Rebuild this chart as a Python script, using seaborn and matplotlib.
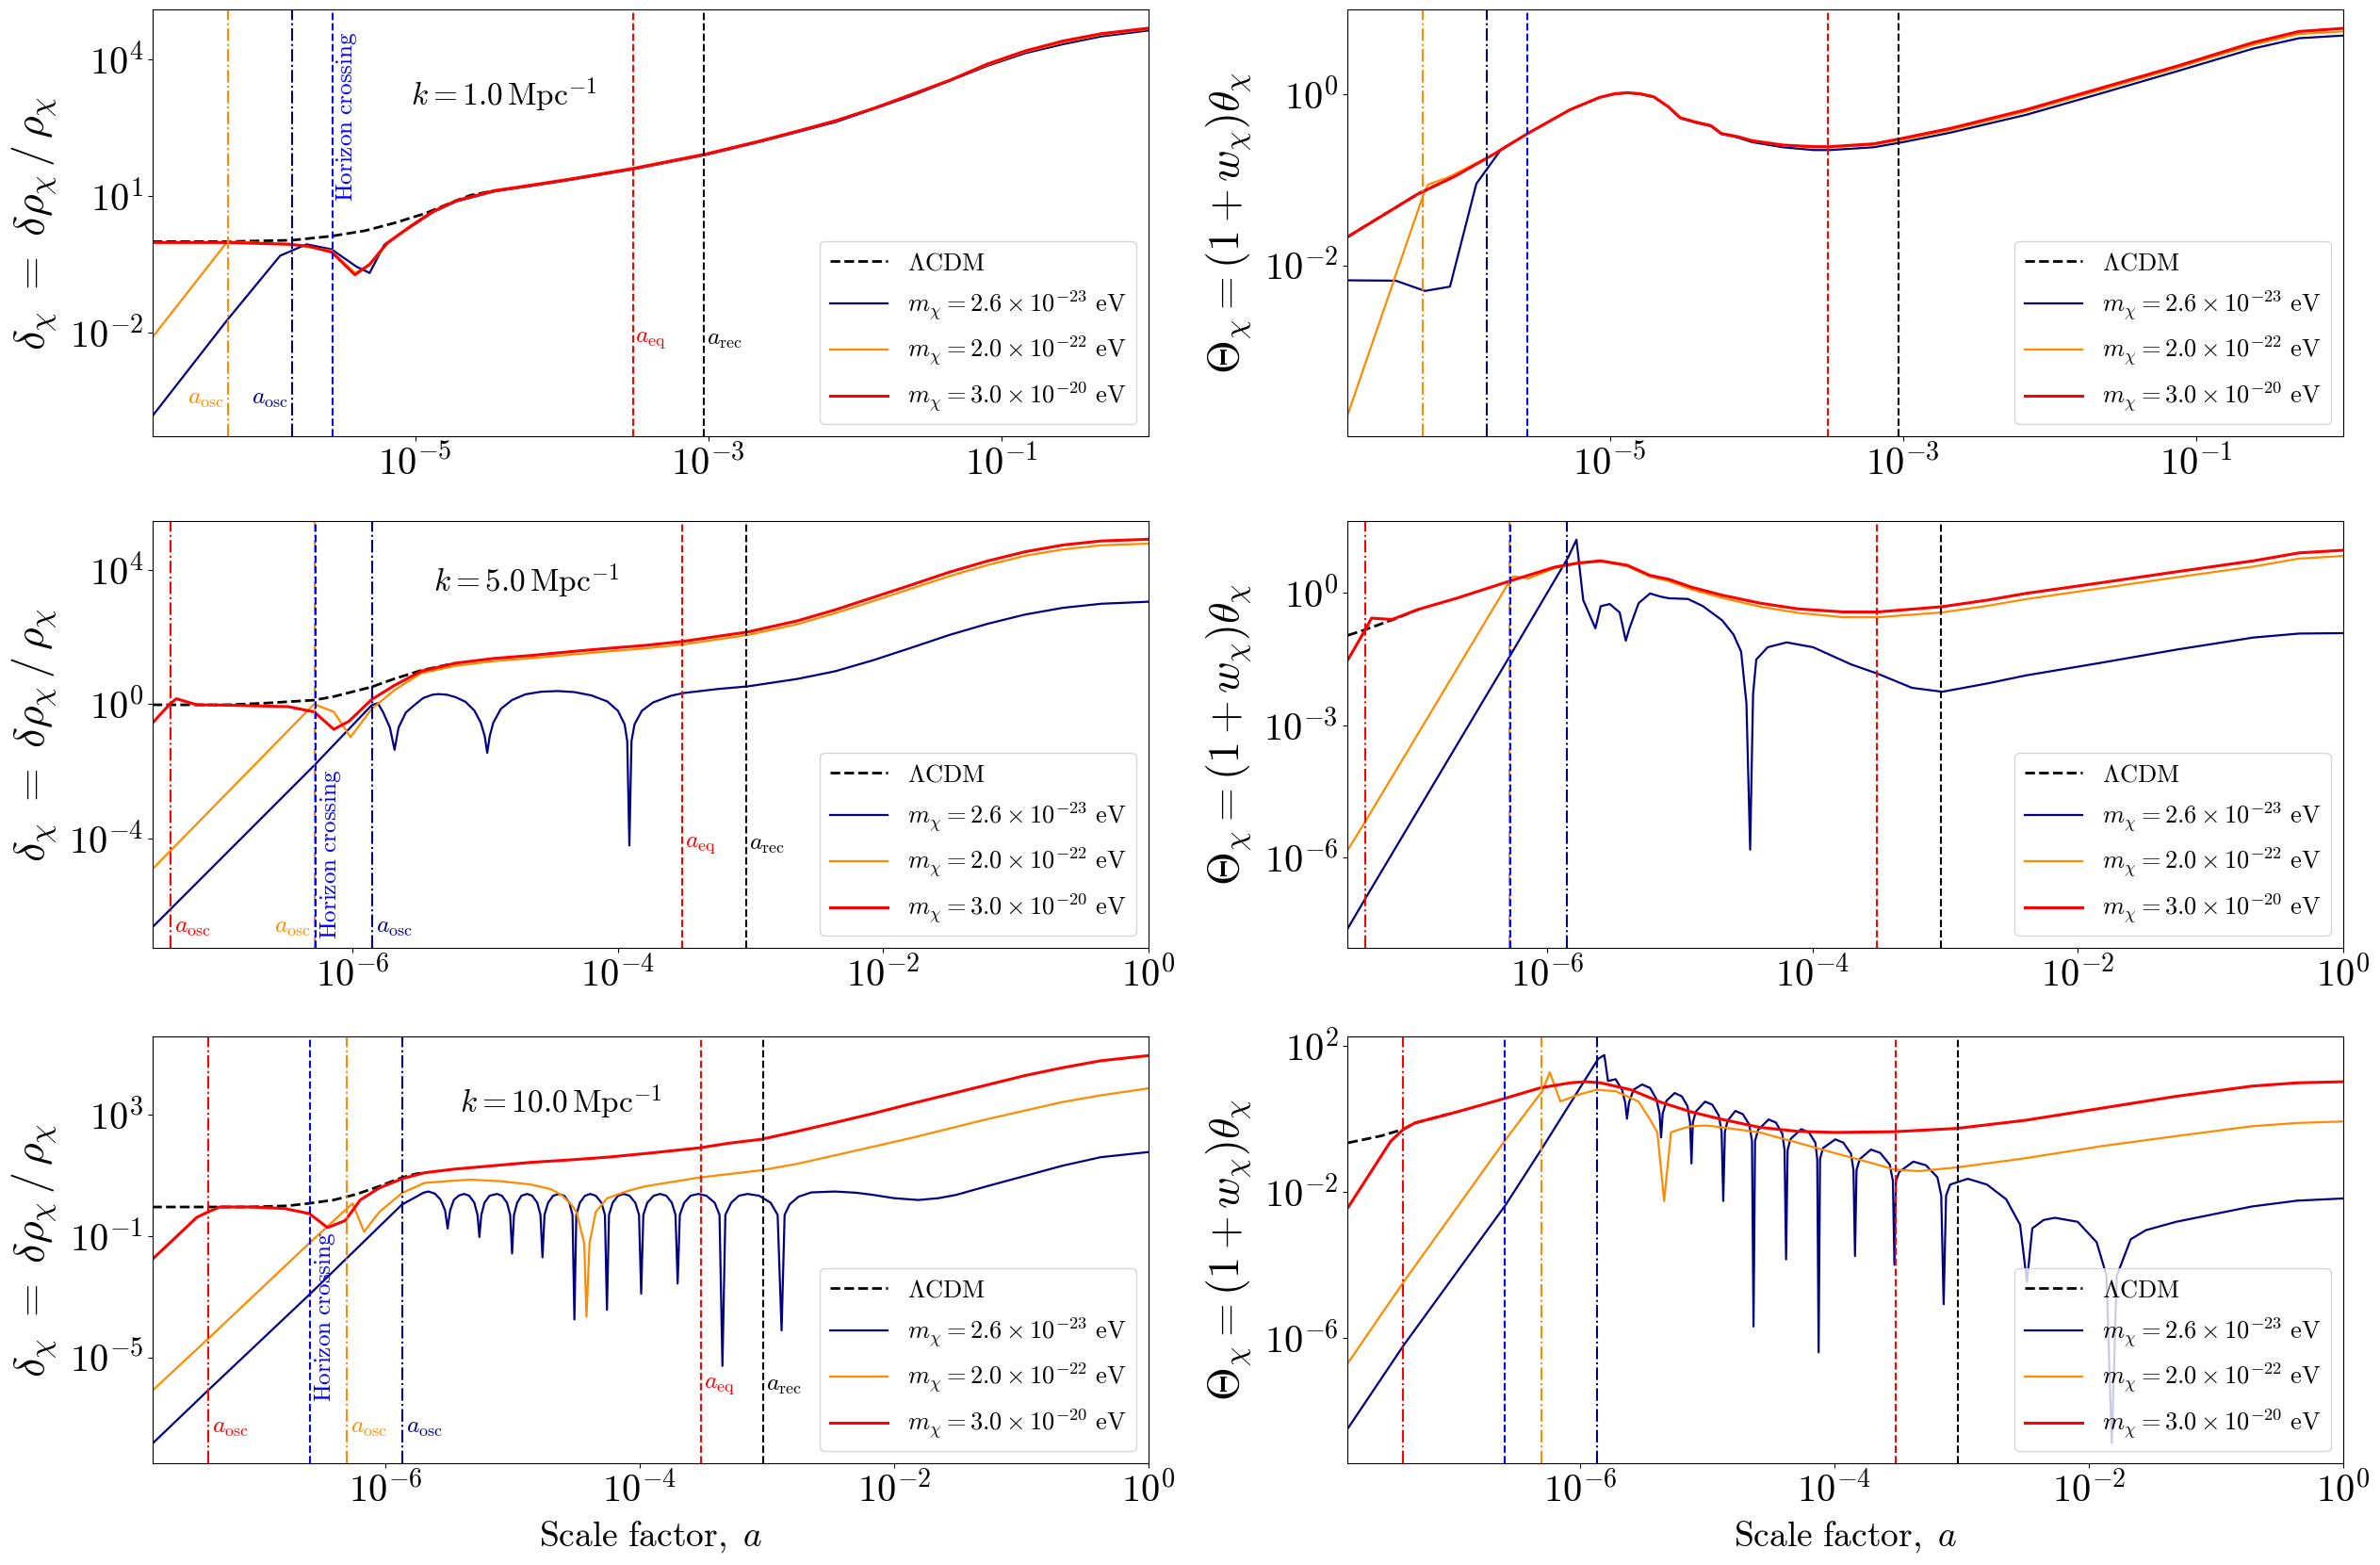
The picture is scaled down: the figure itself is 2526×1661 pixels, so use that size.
import numpy as np
import pandas as pd
import matplotlib
matplotlib.use("Agg")
import matplotlib.pyplot as plt
import matplotlib.transforms as mtransforms
from matplotlib.ticker import FixedLocator, NullLocator, FuncFormatter
import seaborn as sns

# all values are (log10 a, log10 y)

# ---- k = 1.0 Mpc^-1 ----
D1_LCDM = [(-6.79, 0.0), (-6.28, 0.0), (-5.84, 0.03), (-5.57, 0.12), (-5.34, 0.24),
           (-5.14, 0.41), (-4.93, 0.62), (-4.72, 0.90), (-4.62, 1.02), (-4.46, 1.12)]
D1_NAVY = [(-6.79, -3.83), (-6.28, -1.72), (-5.92, -0.31), (-5.74, -0.06), (-5.57, -0.17),
           (-5.40, -0.55), (-5.31, -0.69), (-5.21, -0.07), (-5.03, 0.32), (-4.88, 0.64),
           (-4.72, 0.88), (-4.46, 1.10), (-4.21, 1.22), (-3.95, 1.35), (-3.51, 1.59),
           (-3.01, 1.91), (-2.65, 2.19), (-2.13, 2.63), (-1.61, 3.21), (-1.10, 3.86),
           (-0.84, 4.14), (-0.58, 4.34), (-0.32, 4.51), (0.0, 4.64)]
D1_ORANGE = [(-6.79, -2.10), (-6.28, 0.0), (-5.86, -0.05), (-5.57, -0.20), (-5.41, -0.69),
             (-5.31, -0.52), (-5.19, -0.05), (-5.03, 0.33), (-4.88, 0.65), (-4.72, 0.89),
             (-4.46, 1.11), (-4.21, 1.23), (-3.95, 1.36), (-3.51, 1.60), (-3.01, 1.92),
             (-2.65, 2.20), (-2.13, 2.65), (-1.61, 3.23), (-1.10, 3.88), (-0.84, 4.17),
             (-0.58, 4.38), (-0.32, 4.55), (0.0, 4.67)]
D1_RED = [(-6.79, -0.02), (-6.28, -0.02), (-5.86, -0.06), (-5.73, -0.10), (-5.57, -0.23),
          (-5.41, -0.73), (-5.31, -0.50), (-5.19, -0.03), (-5.03, 0.34), (-4.88, 0.66),
          (-4.72, 0.90), (-4.46, 1.12), (-4.21, 1.24), (-3.95, 1.37), (-3.51, 1.61),
          (-3.01, 1.93), (-2.65, 2.21), (-2.39, 2.43), (-2.13, 2.66), (-1.87, 2.93),
          (-1.61, 3.24), (-1.35, 3.55), (-1.10, 3.90), (-0.84, 4.19), (-0.58, 4.41),
          (-0.32, 4.57), (0.0, 4.69)]

T1_LCDM = [(-6.79, -1.67), (-6.31, -1.167), (-6.05, -0.954)]
T1_NAVY = [(-6.79, -2.176), (-6.46, -2.18), (-6.26, -2.30), (-6.09, -2.25), (-5.91, -1.046),
           (-5.74, -0.642), (-5.56, -0.459), (-5.27, -0.18), (-5.07, -0.04), (-4.97, 0.0),
           (-4.88, 0.015), (-4.79, 0.0), (-4.70, -0.035), (-4.60, -0.15), (-4.52, -0.28),
           (-4.42, -0.33), (-4.31, -0.375), (-4.24, -0.465), (-4.13, -0.505), (-4.03, -0.56),
           (-3.82, -0.62), (-3.61, -0.653), (-3.50, -0.653), (-3.20, -0.62), (-3.00, -0.56),
           (-2.68, -0.45), (-2.16, -0.24), (-1.65, 0.01), (-1.13, 0.27), (-0.61, 0.535),
           (-0.30, 0.655), (0.0, 0.686)]
T1_ORANGE = [(-6.79, -3.76), (-6.27, -1.167), (-6.24, -1.057), (-6.10, -0.97), (-5.79, -0.70),
             (-5.56, -0.459), (-5.27, -0.18), (-5.07, -0.037), (-4.97, 0.003), (-4.88, 0.018),
             (-4.79, 0.003), (-4.70, -0.03), (-4.60, -0.147), (-4.52, -0.275), (-4.42, -0.323),
             (-4.31, -0.367), (-4.24, -0.459), (-4.13, -0.495), (-4.03, -0.545), (-3.82, -0.60),
             (-3.61, -0.62), (-3.50, -0.62), (-3.20, -0.59), (-3.00, -0.53), (-2.68, -0.42),
             (-2.16, -0.20), (-1.65, 0.05), (-1.13, 0.31), (-0.61, 0.58), (-0.30, 0.705),
             (0.0, 0.734)]
T1_RED = [(-6.79, -1.67), (-6.31, -1.167), (-6.05, -0.954), (-5.79, -0.70), (-5.56, -0.459),
          (-5.27, -0.18), (-5.07, -0.037), (-4.97, 0.005), (-4.88, 0.018), (-4.79, 0.005),
          (-4.70, -0.03), (-4.60, -0.147), (-4.52, -0.275), (-4.42, -0.323), (-4.31, -0.367),
          (-4.24, -0.459), (-4.13, -0.495), (-4.03, -0.543), (-3.82, -0.594), (-3.61, -0.613),
          (-3.50, -0.613), (-3.20, -0.58), (-3.00, -0.514), (-2.68, -0.40), (-2.16, -0.18),
          (-1.65, 0.073), (-1.13, 0.33), (-0.61, 0.606), (-0.30, 0.734), (0.0, 0.77)]

# ---- k = 5.0 Mpc^-1 ----
D5_LCDM = [(-7.51, -0.02), (-6.95, -0.02), (-6.66, 0.03), (-6.29, 0.12), (-6.14, 0.23),
           (-5.86, 0.51), (-5.69, 0.75), (-5.48, 1.01), (-5.23, 1.22)]
D5_NAVY = [(-7.51, -6.64), (-6.29, -1.82), (-5.857, -0.03), (-5.811, 0.03), (-5.77, -0.25),
           (-5.72, -0.7), (-5.685, -1.36), (-5.655, -0.7), (-5.60, -0.25), (-5.542, -0.05),
           (-5.47, 0.18), (-5.40, 0.28), (-5.352, 0.30), (-5.29, 0.28), (-5.226, 0.21),
           (-5.15, 0.07), (-5.083, -0.19), (-5.035, -0.55), (-5.005, -0.95), (-4.986, -1.45),
           (-4.967, -0.95), (-4.94, -0.55), (-4.883, -0.14), (-4.80, 0.12), (-4.70, 0.29),
           (-4.58, 0.37), (-4.453, 0.39), (-4.33, 0.36), (-4.20, 0.26), (-4.08, 0.08),
           (-4.00, -0.2), (-3.95, -0.6), (-3.93, -1.1), (-3.914, -4.21), (-3.898, -1.1),
           (-3.875, -0.6), (-3.82, -0.2), (-3.736, 0.05), (-3.60, 0.25), (-3.507, 0.33),
           (-3.25, 0.45), (-3.02, 0.53), (-2.648, 0.75), (-2.361, 0.98), (-2.074, 1.31),
           (-1.788, 1.68), (-1.501, 2.06), (-1.215, 2.39), (-0.928, 2.67), (-0.642, 2.87),
           (-0.355, 2.99), (0.0, 3.05)]
D5_ORANGE = [(-7.51, -4.91), (-6.292, 0.0), (-6.143, -0.23), (-6.017, -0.98), (-5.857, -0.14),
             (-5.685, 0.42), (-5.484, 0.92), (-5.226, 1.14), (-4.94, 1.28), (-4.653, 1.37),
             (-4.367, 1.47), (-4.08, 1.57), (-3.794, 1.66), (-3.507, 1.78), (-3.02, 2.06),
             (-2.648, 2.38), (-2.361, 2.71), (-2.074, 3.07), (-1.788, 3.44), (-1.501, 3.81),
             (-1.215, 4.14), (-0.928, 4.42), (-0.642, 4.61), (-0.355, 4.73), (0.0, 4.78)]
D5_RED = [(-7.51, -0.56), (-7.381, 0.0), (-7.33, 0.16), (-7.175, -0.02), (-6.946, -0.03),
          (-6.487, -0.075), (-6.292, -0.23), (-6.143, -0.75), (-6.029, -0.51), (-5.857, 0.14),
          (-5.685, 0.56), (-5.484, 0.98), (-5.226, 1.22), (-4.94, 1.36), (-4.653, 1.45),
          (-4.367, 1.56), (-4.08, 1.66), (-3.794, 1.75), (-3.507, 1.87), (-3.02, 2.15),
          (-2.648, 2.48), (-2.361, 2.81), (-2.074, 3.18), (-1.788, 3.55), (-1.501, 3.93),
          (-1.215, 4.26), (-0.928, 4.54), (-0.642, 4.74), (-0.355, 4.86), (0.0, 4.91)]

T5_LCDM = [(-7.505, -0.96), (-7.374, -0.83), (-7.145, -0.58), (-6.973, -0.37)]
T5_NAVY = [(-7.505, -7.60), (-7.374, -6.93), (-6.286, -1.44), (-5.845, 0.805), (-5.782, 1.21),
           (-5.731, -0.16), (-5.639, -0.80), (-5.599, -0.30), (-5.531, -0.25), (-5.456, -0.44),
           (-5.41, -1.08), (-5.382, -0.80), (-5.313, -0.23), (-5.227, -0.01), (-5.15, -0.08),
           (-5.084, -0.12), (-4.941, -0.135), (-4.827, -0.30), (-4.683, -0.62), (-4.598, -0.94),
           (-4.54, -1.33), (-4.50, -2.5), (-4.472, -5.82), (-4.45, -2.3), (-4.426, -1.51),
           (-4.34, -1.23), (-4.197, -1.12), (-3.997, -1.23), (-3.71, -1.62), (-3.51, -1.83),
           (-3.252, -2.15), (-3.023, -2.24), (-2.68, -2.05), (-2.394, -1.87), (-1.821, -1.58),
           (-1.249, -1.28), (-0.677, -1.01), (-0.333, -0.92), (0.0, -0.91)]
T5_ORANGE = [(-7.505, -5.82), (-7.374, -5.18), (-6.286, 0.27), (-6.258, 0.38), (-6.143, 0.33),
             (-5.943, 0.57), (-5.771, 0.67), (-5.599, 0.72), (-5.399, 0.61), (-5.227, 0.37),
             (-5.084, 0.27), (-4.912, 0.08), (-4.683, -0.11), (-4.397, -0.31), (-4.111, -0.45),
             (-3.768, -0.55), (-3.51, -0.55), (-3.023, -0.44), (-2.68, -0.29), (-2.394, -0.14),
             (-1.821, 0.11), (-1.249, 0.36), (-0.677, 0.60), (-0.333, 0.78), (0.0, 0.84)]
T5_RED = [(-7.505, -1.51), (-7.374, -0.83), (-7.328, -0.57), (-7.173, -0.60), (-6.973, -0.37),
          (-6.687, -0.12), (-6.286, 0.27), (-5.943, 0.59), (-5.771, 0.68), (-5.599, 0.73),
          (-5.399, 0.63), (-5.227, 0.40), (-5.084, 0.31), (-4.912, 0.13), (-4.683, -0.05),
          (-4.397, -0.23), (-4.111, -0.36), (-3.768, -0.43), (-3.51, -0.43), (-3.023, -0.31),
          (-2.68, -0.16), (-2.394, -0.01), (-1.821, 0.235), (-1.249, 0.485), (-0.677, 0.73),
          (-0.333, 0.91), (0.0, 0.97)]

# ---- k = 10.0 Mpc^-1 ----
D10_LCDM = [(-7.833, -0.04), (-7.063, -0.04), (-6.764, 0.0), (-6.597, 0.08), (-6.406, 0.19),
            (-6.227, 0.38), (-6.048, 0.64), (-5.869, 0.93), (-5.749, 1.06), (-5.69, 1.09)]
D10_NAVY = [(-7.833, -7.85), (-7.397, -6.10), (-6.597, -2.93), (-5.869, 0.04), (-5.779, 0.245),
            (-5.70, 0.43), (-5.66, 0.47), (-5.61, 0.40), (-5.565, 0.2), (-5.53, -0.15),
            (-5.51, -0.75), (-5.49, -0.15), (-5.46, 0.2), (-5.42, 0.34), (-5.379, 0.39),
            (-5.34, 0.33), (-5.30, 0.1), (-5.275, -0.3), (-5.26, -1.03), (-5.245, -0.3),
            (-5.22, 0.1), (-5.18, 0.33), (-5.122, 0.39),
            (-5.083, 0.33), (-5.043, 0.1), (-5.018, -0.3), (-5.003, -1.57), (-4.988, -0.3),
            (-4.963, 0.1), (-4.93, 0.33), (-4.884, 0.39),
            (-4.845, 0.33), (-4.805, 0.1), (-4.78, -0.3), (-4.764, -1.70), (-4.748, -0.3),
            (-4.72, 0.1), (-4.68, 0.33), (-4.633, 0.39),
            (-4.593, 0.33), (-4.553, 0.1), (-4.528, -0.3), (-4.513, -3.75), (-4.498, -0.3),
            (-4.47, 0.1), (-4.43, 0.33), (-4.388, 0.39),
            (-4.345, 0.33), (-4.30, 0.1), (-4.273, -0.3), (-4.257, -3.43), (-4.241, -0.3),
            (-4.212, 0.1), (-4.17, 0.33), (-4.125, 0.39),
            (-4.08, 0.33), (-4.034, 0.1), (-4.005, -0.3), (-3.988, -2.90), (-3.971, -0.3),
            (-3.94, 0.1), (-3.89, 0.33), (-3.839, 0.39),
            (-3.79, 0.33), (-3.747, 0.1), (-3.718, -0.3), (-3.701, -2.56), (-3.684, -0.3),
            (-3.65, 0.1), (-3.60, 0.33), (-3.54, 0.39),
            (-3.475, 0.33), (-3.41, 0.1), (-3.372, -0.3), (-3.349, -5.28), (-3.326, -0.3),
            (-3.28, 0.1), (-3.22, 0.33), (-3.152, 0.39),
            (-3.06, 0.33), (-2.97, 0.1), (-2.915, -0.3), (-2.884, -4.11), (-2.86, -0.3),
            (-2.82, 0.05), (-2.75, 0.3), (-2.65, 0.44), (-2.466, 0.47), (-2.30, 0.43),
            (-2.167, 0.36), (-2.0, 0.25), (-1.809, 0.19), (-1.65, 0.25), (-1.51, 0.36),
            (-1.272, 0.64), (-0.973, 0.98), (-0.675, 1.32), (-0.376, 1.60), (0.0, 1.77)]
D10_ORANGE = [(-7.833, -6.10), (-7.397, -4.40), (-6.597, -1.23), (-6.257, 0.08), (-6.167, -0.86),
              (-6.048, -0.21), (-5.869, 0.42), (-5.69, 0.755), (-5.451, 0.83), (-5.331, 0.86),
              (-5.093, 0.81), (-4.854, 0.70), (-4.70, 0.55), (-4.615, 0.36), (-4.54, 0.05),
              (-4.496, -0.21), (-4.436, -1.23), (-4.418, -3.66), (-4.394, -1.23), (-4.346, -0.21),
              (-4.257, 0.245), (-4.10, 0.48), (-3.958, 0.64), (-3.54, 0.925), (-3.045, 1.17),
              (-2.764, 1.38), (-2.466, 1.66), (-1.869, 2.23), (-1.272, 2.85), (-0.675, 3.42),
              (-0.376, 3.64), (0.0, 3.87)]
D10_RED = [(-7.833, -1.77), (-7.481, -0.38), (-7.397, -0.21), (-7.301, -0.04), (-7.063, -0.04),
           (-6.794, -0.09), (-6.597, -0.26), (-6.454, -0.72), (-6.316, -0.49), (-6.197, 0.19),
           (-6.048, 0.585), (-5.869, 0.89), (-5.69, 1.09), (-5.451, 1.21), (-5.152, 1.32),
           (-4.854, 1.43), (-4.555, 1.51), (-4.257, 1.60), (-3.958, 1.72), (-3.66, 1.85),
           (-3.528, 1.91), (-3.301, 2.06), (-3.045, 2.19), (-2.764, 2.45), (-2.466, 2.74),
           (-2.167, 3.04), (-1.869, 3.36), (-1.57, 3.67), (-1.272, 3.98), (-0.973, 4.29),
           (-0.675, 4.55), (-0.376, 4.78), (0.0, 4.95)]

T10_LCDM = [(-7.823, -0.654), (-7.566, -0.466), (-7.388, -0.28), (-7.298, -0.11), (-6.971, 0.19)]
T10_NAVY = [(-7.823, -8.47), (-7.388, -6.21), (-6.584, -2.35), (-6.298, -0.80), (-5.857, 1.65),
            (-5.809, 1.75), (-5.78, 1.04), (-5.72, 1.09), (-5.67, 0.8), (-5.645, 0.45),
            (-5.631, 0.005), (-5.615, 0.45), (-5.58, 0.8), (-5.512, 0.945),
            (-5.45, 0.85), (-5.40, 0.55), (-5.375, 0.15), (-5.363, -0.51), (-5.35, 0.15),
            (-5.32, 0.5), (-5.256, 0.71),
            (-5.20, 0.62), (-5.155, 0.35), (-5.135, -0.1), (-5.124, -1.22), (-5.113, -0.1),
            (-5.09, 0.2), (-5.017, 0.475),
            (-4.96, 0.39), (-4.91, 0.1), (-4.887, -0.35), (-4.874, -2.25), (-4.861, -0.35),
            (-4.84, -0.05), (-4.779, 0.22),
            (-4.72, 0.13), (-4.67, -0.15), (-4.648, -0.6), (-4.636, -5.69), (-4.624, -0.6),
            (-4.60, -0.3), (-4.517, -0.014),
            (-4.46, -0.1), (-4.41, -0.4), (-4.392, -0.85), (-4.38, -3.85), (-4.368, -0.85),
            (-4.345, -0.55), (-4.261, -0.28),
            (-4.20, -0.37), (-4.15, -0.65), (-4.135, -1.1), (-4.124, -6.40), (-4.113, -1.1),
            (-4.09, -0.8), (-3.993, -0.56),
            (-3.93, -0.65), (-3.87, -0.95), (-3.85, -1.4), (-3.838, -3.76), (-3.826, -1.4),
            (-3.80, -1.1), (-3.713, -0.84),
            (-3.64, -0.93), (-3.565, -1.25), (-3.54, -1.7), (-3.528, -4.0), (-3.516, -1.7),
            (-3.49, -1.45), (-3.379, -1.17),
            (-3.28, -1.27), (-3.19, -1.6), (-3.16, -2.1), (-3.141, -5.08), (-3.122, -2.1),
            (-3.09, -1.8), (-2.951, -1.64),
            (-2.80, -1.8), (-2.65, -2.2), (-2.54, -2.9), (-2.486, -4.47), (-2.444, -3.0),
            (-2.355, -2.77), (-2.266, -2.71), (-2.087, -2.82), (-1.938, -3.38), (-1.86, -4.3),
            (-1.819, -8.89), (-1.78, -4.3), (-1.67, -3.3), (-1.551, -3.05), (-1.313, -2.82),
            (-0.717, -2.40), (-0.36, -2.24), (0.0, -2.18)]
T10_ORANGE = [(-7.823, -6.68), (-7.388, -4.47), (-6.584, -0.56), (-6.298, 0.76), (-6.238, 1.28),
              (-6.155, 0.48), (-6.018, 0.66), (-5.869, 0.80), (-5.72, 0.76), (-5.541, 0.48),
              (-5.452, 0.0), (-5.392, -0.37), (-5.339, -2.25), (-5.285, -0.37), (-5.214, -0.28),
              (-5.124, -0.20), (-5.005, -0.18), (-4.886, -0.23), (-4.588, -0.37), (-4.291, -0.65),
              (-3.993, -0.94), (-3.695, -1.22), (-3.528, -1.39), (-3.338, -1.43), (-3.04, -1.33),
              (-2.504, -1.08), (-1.908, -0.75), (-1.313, -0.47), (-0.717, -0.20), (-0.36, -0.11),
              (0.0, -0.07)]
T10_RED = [(-7.823, -2.42), (-7.489, -0.61), (-7.388, -0.28), (-7.298, -0.11), (-6.971, 0.19),
           (-6.584, 0.57), (-6.316, 0.85), (-6.077, 0.99), (-5.958, 1.02), (-5.839, 0.99),
           (-5.601, 0.80), (-5.363, 0.456), (-5.124, 0.19), (-4.886, -0.01), (-4.588, -0.23),
           (-4.291, -0.34), (-3.993, -0.37), (-3.528, -0.35), (-3.04, -0.26), (-2.504, -0.04),
           (-1.908, 0.29), (-1.313, 0.62), (-0.717, 0.90), (-0.36, 0.99), (0.0, 1.02)]

# characteristic scale factors (log10 a) per k
K_VALUES = [1.0, 5.0, 10.0]
A_OSC_NAVY = [-5.837, -5.855, -5.866]
A_OSC_ORANGE = [-6.277, -6.288, -6.305]
A_OSC_RED = [None, -7.375, -7.393]
A_HORIZON = [-5.565, -6.278, -6.594]
A_EQ = -3.515
A_REC = -3.03

X_MIN = [-6.79, -7.51, -7.83]
Y_LIMS = [(-4.28, 5.10), (-4.0, 0.99), (-7.26, 5.45), (-8.05, 1.63), (-8.49, 5.58), (-9.44, 2.26)]
Y_TICKS = [[-2, 1, 4], [-2, 0], [-4, 0, 4], [-6, -3, 0], [-5, -1, 3], [-6, -2, 2]]
X_TICKS = [[-5, -3, -1], [-6, -4, -2, 0], [-6, -4, -2, 0]]

LABELS = [r"$\Lambda\mathrm{CDM}$",
          r"$m_\chi = 2.6\times10^{-23}\ \mathrm{eV}$",
          r"$m_\chi = 2.0\times10^{-22}\ \mathrm{eV}$",
          r"$m_\chi = 3.0\times10^{-20}\ \mathrm{eV}$"]

plt.rcParams["mathtext.fontset"] = "cm"
plt.rcParams["axes.unicode_minus"] = False

NAVY, ORANGE, RED = "navy", "darkorange", "red"

fig = plt.figure(figsize=(25.26, 16.61), dpi=100)
col_left = [0.0641, 0.5661]
row_bottom = [0.7212, 0.3943, 0.0650]
W, H = 0.4184, 0.2727

panels = [
    (D1_LCDM, D1_NAVY, D1_ORANGE, D1_RED), (T1_LCDM, T1_NAVY, T1_ORANGE, T1_RED),
    (D5_LCDM, D5_NAVY, D5_ORANGE, D5_RED), (T5_LCDM, T5_NAVY, T5_ORANGE, T5_RED),
    (D10_LCDM, D10_NAVY, D10_ORANGE, D10_RED), (T10_LCDM, T10_NAVY, T10_ORANGE, T10_RED),
]

# text placement per row (axes fraction)
k_pos = [(0.353, 0.80), (0.376, 0.86), (0.41, 0.847)]
osc_y = [0.09, 0.05, 0.086]
eq_y = [0.23, 0.245, 0.185]
hor_y = [(0.95, "top"), (0.02, "bottom"), (0.143, "bottom")]
# which side of the line each a_osc label sits on (navy, orange, red)
osc_side = [("right", "right", None), ("left", "right", "left"), ("left", "left", "left")]

fmt = FuncFormatter(lambda v, p: r"$10^{%d}$" % int(round(np.log10(v))))

for i, series in enumerate(panels):
    row, col = divmod(i, 2)
    ax = fig.add_axes([col_left[col], row_bottom[row], W, H])
    ax.set_xscale("log")
    ax.set_yscale("log")

    styles = [("black", 2.0, "--"), (NAVY, 1.6, "-"), (ORANGE, 1.6, "-"), (RED, 2.2, "-")]
    for pts, (c, lw, ls) in zip(series, styles):
        la, ly = zip(*pts)
        df = pd.DataFrame({"a": 10.0 ** np.array(la), "v": 10.0 ** np.array(ly)})
        sns.lineplot(data=df, x="a", y="v", ax=ax, color=c, lw=lw, linestyle=ls,
                     estimator=None, sort=False, legend=False)
    handles = list(ax.get_lines()[:4])

    # reference lines
    lines = [(A_OSC_ORANGE[row], ORANGE, "-."), (A_OSC_NAVY[row], NAVY, "-."),
             (A_HORIZON[row], "blue", "--"), (A_EQ, RED, "--"), (A_REC, "black", "--")]
    if A_OSC_RED[row] is not None:
        lines.insert(0, (A_OSC_RED[row], RED, "-."))
    for x, c, ls in lines:
        ax.axvline(10 ** x, color=c, ls=ls, lw=1.5)

    ax.set_xlim(10 ** X_MIN[row], 1.0)
    lo, hi = Y_LIMS[i]
    ax.set_ylim(10 ** lo, 10 ** hi)
    ax.xaxis.set_major_locator(FixedLocator([10.0 ** t for t in X_TICKS[row]]))
    ax.yaxis.set_major_locator(FixedLocator([10.0 ** t for t in Y_TICKS[i]]))
    ax.xaxis.set_minor_locator(NullLocator())
    ax.yaxis.set_minor_locator(NullLocator())
    ax.xaxis.set_major_formatter(fmt)
    ax.yaxis.set_major_formatter(fmt)
    ax.tick_params(labelsize=29)

    if col == 0:
        ax.set_ylabel(r"$\delta_\chi\ =\ \delta\rho_\chi\,/\,\rho_\chi$", fontsize=33)
    else:
        ax.set_ylabel(r"$\Theta_\chi = (1 + w_\chi)\theta_\chi$", fontsize=33)
    ax.yaxis.set_label_coords(-0.095, 0.5)
    if row == 2:
        ax.set_xlabel(r"$\mathrm{Scale\ factor,}\ a$", fontsize=27, labelpad=6)
    else:
        ax.set_xlabel("")

    ax.legend(handles, LABELS, loc="lower right", fontsize=19, handlelength=2.3)

    if col == 0:
        tr = mtransforms.blended_transform_factory(ax.transData, ax.transAxes)
        kx, ky = k_pos[row]
        ax.text(kx, ky, r"$k = %.1f\,\mathrm{Mpc}^{-1}$" % K_VALUES[row], transform=ax.transAxes,
                fontsize=24, ha="center", va="center")
        osc = [(A_OSC_NAVY[row], NAVY), (A_OSC_ORANGE[row], ORANGE), (A_OSC_RED[row], RED)]
        for (x, c), side in zip(osc, osc_side[row]):
            if x is None:
                continue
            dx = 3 if side == "left" else -3
            ax.annotate(r"$a_\mathrm{osc}$", xy=(10 ** x, osc_y[row]), xycoords=tr,
                        xytext=(dx, 0), textcoords="offset points", color=c, fontsize=18.5,
                        ha=side, va="center")
        ax.annotate(r"$a_\mathrm{eq}$", xy=(10 ** A_EQ, eq_y[row]), xycoords=tr,
                    xytext=(2, 0), textcoords="offset points", color=RED, fontsize=18.5,
                    ha="left", va="center")
        ax.annotate(r"$a_\mathrm{rec}$", xy=(10 ** A_REC, eq_y[row]), xycoords=tr,
                    xytext=(2, 0), textcoords="offset points", color="black", fontsize=18.5,
                    ha="left", va="center")
        hy, hva = hor_y[row]
        ax.annotate(r"$\mathrm{Horizon\ crossing}$", xy=(10 ** A_HORIZON[row], hy), xycoords=tr,
                    xytext=(2, 0), textcoords="offset points", color="blue", fontsize=18,
                    rotation=90, ha="left", va=hva)

fig.savefig("out.png", dpi=100)
